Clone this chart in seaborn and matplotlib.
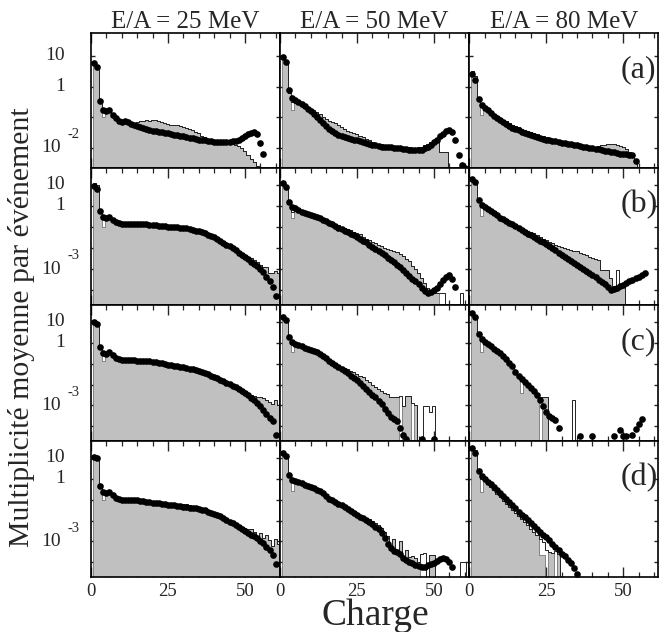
import numpy as np
import matplotlib
matplotlib.use("Agg")
import matplotlib.pyplot as plt
from matplotlib.ticker import NullLocator
import seaborn as sns

# column titles and row tags
energies = ["E/A = 25 MeV", "E/A = 50 MeV", "E/A = 80 MeV"]
row_tags = ["(a)", "(b)", "(c)", "(d)"]

# all values are log10(multiplicity), charge bins Z = 1, 2, 3, ...
# None = empty bin / no data point

# ---- row (a)
a25_dots = [0.76, 0.65, -0.47, -0.77, -0.80, -0.78, -0.93, -1.04, -1.14, -1.16,
            -1.14, -1.15, -1.22, -1.27, -1.30, -1.33, -1.36, -1.38, -1.41, -1.44,
            -1.45, -1.47, -1.49, -1.51, -1.53, -1.55, -1.57, -1.59, -1.61, -1.63,
            -1.65, -1.67, -1.69, -1.71, -1.73, -1.74, -1.76, -1.77, -1.79, -1.80,
            -1.81, -1.82, -1.82, -1.81, -1.80, -1.79, -1.77, -1.75, -1.68, -1.62,
            -1.56, -1.52, -1.50, -1.54, -1.84, -2.19]
a25_fill = [0.80, 0.70, -0.47, -1.00, -0.80, -0.80, -0.95, -1.05, -1.13, -1.16,
            -1.15, -1.15, -1.18, -1.20, -1.17, -1.14, -1.12, -1.10, -1.14, -1.10,
            -1.10, -1.13, -1.17, -1.20, -1.22, -1.24, -1.25, -1.27, -1.30, -1.32,
            -1.34, -1.38, -1.43, -1.47, -1.52, -1.60, -1.66, -1.72, -1.77, -1.80,
            -1.82, -1.84, -1.85, -1.86, -1.87, -1.88, -1.90, -1.93, -2.02, -2.10,
            -2.22, -2.35, -2.45, -2.58, -2.65, None]
a25_line = {4: -0.84}

a50_dots = [0.96, 0.80, -0.12, -0.38, -0.43, -0.50, -0.56, -0.64, -0.72, -0.80,
            -0.88, -0.98, -1.08, -1.18, -1.28, -1.38, -1.46, -1.52, -1.57, -1.61,
            -1.64, -1.67, -1.70, -1.73, -1.76, -1.79, -1.81, -1.84, -1.87, -1.90,
            -1.92, -1.94, -1.96, -1.97, -1.98, -1.99, -2.00, -2.01, -2.02, -2.03,
            -2.04, -2.06, -2.07, -2.08, -2.08, -2.06, -2.02, -1.97, -1.90, -1.82,
            -1.73, -1.63, -1.54, -1.46, -1.42, -1.47, -1.75, -2.22, -2.55, -2.65]
a50_fill = [0.97, 0.85, -0.20, -0.77, -0.55, -0.58, -0.62, -0.70, -0.72, -0.74,
            -0.78, -0.84, -0.90, -0.98, -1.05, -1.12, -1.15, -1.18, -1.25, -1.33,
            -1.40, -1.45, -1.50, -1.53, -1.56, -1.60, -1.66, -1.72, -1.76, -1.80,
            -1.83, -1.86, -1.89, -1.91, -1.93, -1.94, -1.95, -1.96, -1.97, -1.98,
            -1.98, -1.99, -2.00, -2.00, -1.99, -1.96, -1.92, -1.87, -1.82, -1.78,
            -1.76, -2.13, -2.13, -2.13, None]
a50_line = {4: -0.50}

a80_dots = [0.40, 0.22, -0.40, -0.60, -0.70, -0.77, -0.86, -0.95, -1.03, -1.10,
            -1.17, -1.23, -1.29, -1.34, -1.39, -1.43, -1.47, -1.51, -1.55, -1.58,
            -1.61, -1.64, -1.67, -1.70, -1.73, -1.75, -1.77, -1.79, -1.81, -1.83,
            -1.85, -1.87, -1.88, -1.90, -1.92, -1.94, -1.96, -1.98, -2.00, -2.01,
            -2.03, -2.05, -2.07, -2.09, -2.11, -2.13, -2.15, -2.17, -2.19, -2.20,
            -2.21, -2.22, -2.24, -2.42]
a80_fill = [0.50, 0.35, -0.35, -0.93, -0.65, -0.72, -0.80, -0.88, -0.95, -1.02,
            -1.08, -1.14, -1.19, -1.24, -1.29, -1.33, -1.37, -1.42, -1.46, -1.50,
            -1.53, -1.56, -1.60, -1.63, -1.66, -1.69, -1.72, -1.75, -1.78, -1.80,
            -1.82, -1.85, -1.87, -1.89, -1.91, -1.93, -1.95, -1.97, -1.98, -1.99,
            -1.98, -1.95, -1.92, -1.90, -1.89, -1.89, -1.89, -1.90, -1.93, -1.97,
            -2.05, -2.15, -2.30, -2.40, None]
a80_line = {4: -0.65}

# ---- row (b)
b25_dots = [0.95, 0.80, -0.26, -0.53, -0.58, -0.53, -0.66, -0.78, -0.83, -0.85,
            -0.84, -0.84, -0.85, -0.86, -0.87, -0.88, -0.88, -0.88, -0.89, -0.90,
            -0.91, -0.93, -0.95, -0.97, -0.98, -0.99, -1.00, -1.02, -1.04, -1.05,
            -1.07, -1.10, -1.13, -1.17, -1.21, -1.25, -1.30, -1.36, -1.42, -1.49,
            -1.57, -1.65, -1.74, -1.83, -1.92, -2.01, -2.11, -2.21, -2.32, -2.43,
            -2.54, -2.65, -2.76, -2.87, -2.98, -3.15, -3.35, -3.58, -3.85, -4.25]
b25_fill = [1.08, 1.00, -0.30, -1.00, -0.58, -0.58, -0.68, -0.78, -0.82, -0.84,
            -0.83, -0.83, -0.84, -0.85, -0.86, -0.87, -0.87, -0.87, -0.88, -0.89,
            -0.90, -0.92, -0.94, -0.96, -0.97, -0.98, -0.99, -1.01, -1.03, -1.04,
            -1.06, -1.09, -1.12, -1.16, -1.20, -1.24, -1.29, -1.35, -1.41, -1.48,
            -1.56, -1.64, -1.73, -1.82, -1.91, -2.00, -2.08, -2.16, -2.25, -2.33,
            -2.40, -2.46, -2.55, -2.65, -2.80, -2.90, -2.92, -3.20, -3.20, -3.10,
            -3.20]
b25_line = {4: -0.58}

b50_dots = [1.08, 0.90, 0.20, -0.05, -0.12, -0.20, -0.28, -0.35, -0.40, -0.45,
            -0.50, -0.54, -0.58, -0.65, -0.73, -0.81, -0.88, -0.95, -1.03, -1.10,
            -1.18, -1.25, -1.32, -1.40, -1.48, -1.56, -1.64, -1.73, -1.83, -1.93,
            -2.04, -2.14, -2.24, -2.35, -2.46, -2.57, -2.68, -2.80, -2.92, -3.05,
            -3.18, -3.32, -3.45, -3.58, -3.72, -3.88, -4.05, -4.12, -4.08, -3.98,
            -3.88, -3.72, -3.50, -3.35, -3.30, -3.45, -3.85]
b50_fill = [1.10, 0.95, 0.10, -0.58, -0.15, -0.22, -0.30, -0.36, -0.40, -0.44,
            -0.48, -0.52, -0.57, -0.62, -0.68, -0.74, -0.80, -0.86, -0.92, -0.98,
            -1.04, -1.10, -1.16, -1.22, -1.28, -1.35, -1.45, -1.55, -1.62, -1.70,
            -1.78, -1.84, -1.90, -1.98, -2.02, -2.08, -2.12, -2.20, -2.28, -2.38,
            -2.50, -2.60, -2.85, -3.00, -3.20, -3.40, -3.65, -3.90, -4.05, -4.13,
            -4.13, None, None, None, None, None, None, None, None, None]
b50_line = {4: -0.30, 52: -4.13, 53: -4.13, 59: -4.13}

b80_dots = [1.30, 1.14, 0.28, 0.05, -0.07, -0.15, -0.25, -0.35, -0.45, -0.55,
            -0.63, -0.71, -0.79, -0.88, -0.97, -1.06, -1.15, -1.24, -1.32, -1.40,
            -1.48, -1.56, -1.64, -1.73, -1.82, -1.91, -2.01, -2.11, -2.21, -2.32,
            -2.42, -2.52, -2.62, -2.72, -2.82, -2.92, -3.00, -3.08, -3.18, -3.27,
            -3.38, -3.50, -3.60, -3.68, -3.85, -4.00, -3.95, -3.90, -3.80, -3.73,
            -3.66, -3.58, -3.50, -3.42, -3.35, -3.27, -3.20]
b80_fill = [1.35, 1.20, 0.20, -0.50, -0.10, -0.18, -0.27, -0.36, -0.44, -0.52,
            -0.60, -0.68, -0.75, -0.83, -0.91, -0.98, -1.06, -1.13, -1.20, -1.22,
            -1.30, -1.40, -1.48, -1.55, -1.62, -1.70, -1.78, -1.84, -1.90, -1.95,
            -2.00, -2.04, -2.08, -2.12, -2.16, -2.22, -2.28, -2.34, -2.40, -2.45,
            -2.52, -2.58, -3.05, -3.05, -3.05, -3.40, -3.80, -3.90, -3.85, -3.82,
            None]
b80_line = {4: -0.05, 48: -3.05}

# ---- row (c)
c25_dots = [1.00, 0.90, -0.19, -0.48, -0.52, -0.45, -0.60, -0.74, -0.80, -0.83,
            -0.83, -0.84, -0.84, -0.85, -0.86, -0.87, -0.88, -0.88, -0.89, -0.91,
            -0.93, -0.96, -0.99, -1.02, -1.05, -1.08, -1.10, -1.13, -1.15, -1.18,
            -1.21, -1.24, -1.27, -1.31, -1.35, -1.40, -1.46, -1.52, -1.58, -1.64,
            -1.70, -1.77, -1.84, -1.91, -1.98, -2.05, -2.13, -2.22, -2.31, -2.41,
            -2.52, -2.63, -2.76, -2.90, -3.05, -3.22, -3.40, -3.58, -3.75, -4.40]
c25_fill = [1.08, 1.00, -0.25, -0.90, -0.52, -0.47, -0.60, -0.73, -0.79, -0.82,
            -0.82, -0.83, -0.83, -0.84, -0.85, -0.86, -0.87, -0.87, -0.88, -0.90,
            -0.92, -0.95, -0.98, -1.01, -1.04, -1.07, -1.09, -1.12, -1.14, -1.17,
            -1.20, -1.23, -1.26, -1.30, -1.34, -1.39, -1.45, -1.51, -1.57, -1.63,
            -1.69, -1.76, -1.83, -1.90, -1.97, -2.04, -2.12, -2.21, -2.30, -2.38,
            -2.45, -2.50, -2.55, -2.58, -2.62, -2.65, -2.72, -2.85, -2.95, -2.75,
            -3.00]
c25_line = {4: -0.55}

c50_dots = [1.23, 1.07, 0.27, 0.03, -0.05, -0.12, -0.18, -0.24, -0.29, -0.34,
            -0.40, -0.47, -0.55, -0.64, -0.73, -0.86, -0.95, -1.05, -1.15, -1.25,
            -1.35, -1.46, -1.57, -1.68, -1.80, -1.93, -2.06, -2.20, -2.34, -2.48,
            -2.62, -2.77, -2.95, -3.15, -3.35, -3.55, -3.65, -3.75, -4.10, -4.40,
            -4.60, None, None, None, None, -4.62, None, None, None, -4.62]
c50_fill = [1.25, 1.10, 0.20, -0.45, -0.02, -0.08, -0.14, -0.20, -0.26, -0.32,
            -0.38, -0.44, -0.51, -0.58, -0.67, -0.76, -0.86, -0.96, -1.06, -1.14,
            -1.22, -1.28, -1.35, -1.42, -1.50, -1.58, -1.66, -1.78, -1.88, -2.00,
            -2.10, -2.20, -2.30, -2.40, -2.45, -2.62, -2.62, -2.62, None, -3.05,
            -2.55, -2.55, None, -3.00, None, None, None, None, None, None,
            None, None]
c50_line = {4: 0.00, 39: -2.55, 43: -2.90, 47: -3.05, 48: -3.05, 49: -3.30, 50: -3.05}

c80_dots = [1.42, 1.25, 0.40, 0.18, 0.05, -0.08, -0.18, -0.28, -0.38, -0.50,
            -0.64, -0.79, -0.95, -1.12, -1.40, -1.60, -1.75, -1.88, -2.00, -2.15,
            -2.32, -2.50, -2.75, -3.05, -3.30, -3.50, -3.60, -3.72, -4.10, None,
            None, None, None, None, None, -4.45, None, None, None, -4.45,
            None, None, None, None, None, None, -4.45, None, -4.18, -4.45,
            -4.45, None, -4.42, -4.12, -3.90, -3.65]
c80_fill = [1.45, 1.30, 0.35, -0.45, 0.05, -0.08, -0.20, -0.32, -0.45, -0.58,
            -0.72, -0.88, -1.05, -1.22, -1.45, -1.65, -2.40, -1.90, -2.05, -2.20,
            -2.35, -2.55, None, -2.62, -2.62, None, None, None, None, None,
            None, None, None, None, None]
c80_line = {4: 0.20, 17: -1.70, 23: -2.60, 34: -2.75}

# ---- row (d)
d25_dots = [1.03, 0.97, -0.34, -0.62, -0.67, -0.62, -0.77, -0.92, -0.99, -1.01,
            -1.00, -1.00, -1.01, -1.02, -1.04, -1.06, -1.08, -1.10, -1.12, -1.14,
            -1.16, -1.18, -1.20, -1.22, -1.24, -1.26, -1.28, -1.30, -1.32, -1.34,
            -1.36, -1.38, -1.40, -1.42, -1.45, -1.48, -1.52, -1.57, -1.62, -1.67,
            -1.73, -1.80, -1.88, -1.96, -2.05, -2.13, -2.22, -2.31, -2.40, -2.48,
            -2.58, -2.67, -2.76, -2.85, -2.97, -3.09, -3.25, -3.41, -3.65, -4.08]
d25_fill = [1.08, 1.00, -0.35, -1.00, -0.65, -0.62, -0.76, -0.90, -0.97, -0.99,
            -0.99, -0.99, -1.00, -1.01, -1.03, -1.05, -1.07, -1.09, -1.11, -1.13,
            -1.15, -1.17, -1.19, -1.21, -1.23, -1.25, -1.27, -1.28, -1.26, -1.22,
            -1.22, -1.24, -1.33, -1.40, -1.44, -1.47, -1.51, -1.56, -1.61, -1.66,
            -1.72, -1.79, -1.86, -1.94, -2.02, -2.08, -2.15, -2.22, -2.30, -2.35,
            -2.40, -2.40, -2.55, -2.72, -2.62, -2.85, -2.70, -2.95, -3.20, -2.90,
            -3.10]
d25_line = {4: -0.65}

d50_dots = [1.25, 1.10, 0.18, -0.05, -0.12, -0.17, -0.23, -0.29, -0.35, -0.41,
            -0.47, -0.53, -0.60, -0.70, -0.82, -0.95, -1.04, -1.12, -1.20, -1.28,
            -1.36, -1.45, -1.54, -1.63, -1.72, -1.81, -1.90, -1.99, -2.08, -2.18,
            -2.29, -2.42, -2.60, -2.85, -3.10, -3.30, -3.45, -3.50, -3.62, -3.78,
            -3.90, -3.98, -4.05, -4.12, -4.18, -4.22, -4.20, -4.15, -4.10, -4.02,
            -3.95, -3.85, -3.78, -3.85, -4.00, -4.20]
d50_fill = [1.30, 1.15, 0.10, -0.60, -0.10, -0.15, -0.21, -0.27, -0.33, -0.39,
            -0.45, -0.51, -0.58, -0.67, -0.78, -0.90, -1.00, -1.08, -1.16, -1.24,
            -1.32, -1.40, -1.48, -1.56, -1.64, -1.72, -1.80, -1.88, -1.95, -2.02,
            -2.10, -2.20, -2.35, -2.55, -2.75, -3.20, -2.90, -3.45, -3.00, -3.70,
            -3.40, -3.75, -3.70, -3.80, -4.00, None, None, None, -3.65, -3.65,
            None, None, None, None, None, None, None, None, None, None, None]
d50_line = {4: -0.10, 46: -3.60, 47: -3.55, 59: -4.00, 60: -4.00}

d80_dots = [1.47, 1.25, 0.35, 0.12, -0.02, -0.14, -0.27, -0.40, -0.55, -0.70,
            -0.84, -0.98, -1.12, -1.27, -1.42, -1.57, -1.72, -1.85, -1.97, -2.10,
            -2.25, -2.40, -2.55, -2.70, -2.80, -2.95, -3.10, -3.25, -3.42, -3.58,
            -3.72, -3.88, -4.05, -4.25, -4.58]
d80_fill = [1.50, 1.35, 0.30, -0.65, -0.10, -0.25, -0.40, -0.55, -0.72, -0.90,
            -1.05, -1.20, -1.35, -1.50, -1.65, -1.80, -1.95, -2.08, -2.22, -2.40,
            -2.55, -2.70, -3.65, -3.65, None, -3.50, -3.55, None, -3.60, None,
            None]
d80_line = {4: 0.00, 23: -2.90, 24: -3.05, 25: -3.40, 28: -3.45}

dots = [[a25_dots, a50_dots, a80_dots], [b25_dots, b50_dots, b80_dots],
        [c25_dots, c50_dots, c80_dots], [d25_dots, d50_dots, d80_dots]]
fills = [[a25_fill, a50_fill, a80_fill], [b25_fill, b50_fill, b80_fill],
         [c25_fill, c50_fill, c80_fill], [d25_fill, d50_fill, d80_fill]]
lines = [[a25_line, a50_line, a80_line], [b25_line, b50_line, b80_line],
         [c25_line, c50_line, c80_line], [d25_line, d50_line, d80_line]]

# y range (log10) per row and the labelled low decade
y_range = [(-2.66, 1.75), (-4.7, 1.8), (-4.7, 1.8), (-4.7, 1.8)]
low_exp = [-2, -3, -3, -3]

GRAY = "#c0c0c0"


def to_lin(vals):
    return np.array([0.0 if v is None else 10.0 ** v for v in vals])


def draw_panel(ax, dot_vals, fill_vals, line_fix):
    z = np.arange(1, len(fill_vals) + 1)
    line_vals = list(fill_vals)
    for k, v in line_fix.items():
        line_vals[k - 1] = v

    sns.histplot(x=z, weights=to_lin(fill_vals), discrete=True, element="step",
                 fill=True, facecolor=GRAY, edgecolor="#606060", linewidth=0.5,
                 alpha=1, ax=ax)
    sns.histplot(x=z, weights=to_lin(line_vals), discrete=True, element="step",
                 fill=False, color="#222222", linewidth=0.7, ax=ax)

    zd = np.arange(1, len(dot_vals) + 1)
    yd = np.array([np.nan if v is None else 10.0 ** v for v in dot_vals])
    sns.scatterplot(x=zd, y=yd, color="black", s=23, linewidth=0, ax=ax, zorder=3)


sns.set_style("ticks")
plt.rcParams["font.family"] = ["Liberation Serif", "DejaVu Serif"]

fig = plt.figure(figsize=(6.61, 6.32), dpi=100)
W, H = 661.0, 632.0
col_left = [91, 280, 469.3]
row_top = [33, 168, 305, 441]
row_bot = [168, 305, 441, 577]
pw = 189

for r in range(4):
    for c in range(3):
        ax = fig.add_axes([col_left[c] / W, 1 - row_bot[r] / H,
                           pw / W, (row_bot[r] - row_top[r]) / H])
        draw_panel(ax, dots[r][c], fills[r][c], lines[r][c])

        lo, hi = y_range[r]
        ax.set_yscale("log")
        ax.set_ylim(10.0 ** lo, 10.0 ** hi)
        ax.set_xlim(0, 61.4)
        ax.set_xlabel("")
        ax.set_ylabel("")

        ax.set_yticks([10.0 ** e for e in range(1, int(np.floor(lo)), -1)])
        ax.yaxis.set_minor_locator(NullLocator())
        ax.set_xticks([0, 25, 50])
        ax.set_xticks(np.arange(5, 61, 5), minor=True)
        ax.tick_params(axis="x", which="major", direction="in", length=7, width=1,
                       top=True, bottom=True, labelsize=13.5, pad=4,
                       labelbottom=(r == 3))
        ax.tick_params(axis="x", which="minor", direction="in", length=3.5,
                       width=0.9, top=True, bottom=True)
        ax.tick_params(axis="y", which="major", direction="in", length=3, width=1,
                       left=True, right=True, labelleft=False)
        for sp in ax.spines.values():
            sp.set_linewidth(1.2)
            sp.set_color("black")

        if r == 0:
            ax.set_title(energies[c], fontsize=18, pad=2)

        if c == 0:
            for val, txt in [(10.0, "10"), (1.0, "1")]:
                ax.annotate(txt, xy=(0, val), xycoords=("axes fraction", "data"),
                            xytext=(-18.5, 0), textcoords="offset points",
                            ha="right", va="center", fontsize=14)
            e = low_exp[r]
            ax.annotate("10", xy=(0, 10.0 ** e), xycoords=("axes fraction", "data"),
                        xytext=(-21.5, 0), textcoords="offset points",
                        ha="right", va="center", fontsize=14)
            ax.annotate(str(e), xy=(0, 10.0 ** e), xycoords=("axes fraction", "data"),
                        xytext=(-17, 9.5), textcoords="offset points",
                        ha="left", va="center", fontsize=10.5)

        if c == 2:
            ax.text(0.8, 0.73, row_tags[r], transform=ax.transAxes,
                    fontsize=23, ha="left", va="center")

fig.text(22 / W, 1 - 327 / H, "Multiplicité moyenne par événement",
         rotation=90, ha="center", va="center", fontsize=21.5)
fig.text(375.5 / W, 1 - 625 / H, "Charge", ha="center", va="baseline", fontsize=27)

fig.savefig("out.png", dpi=100)
